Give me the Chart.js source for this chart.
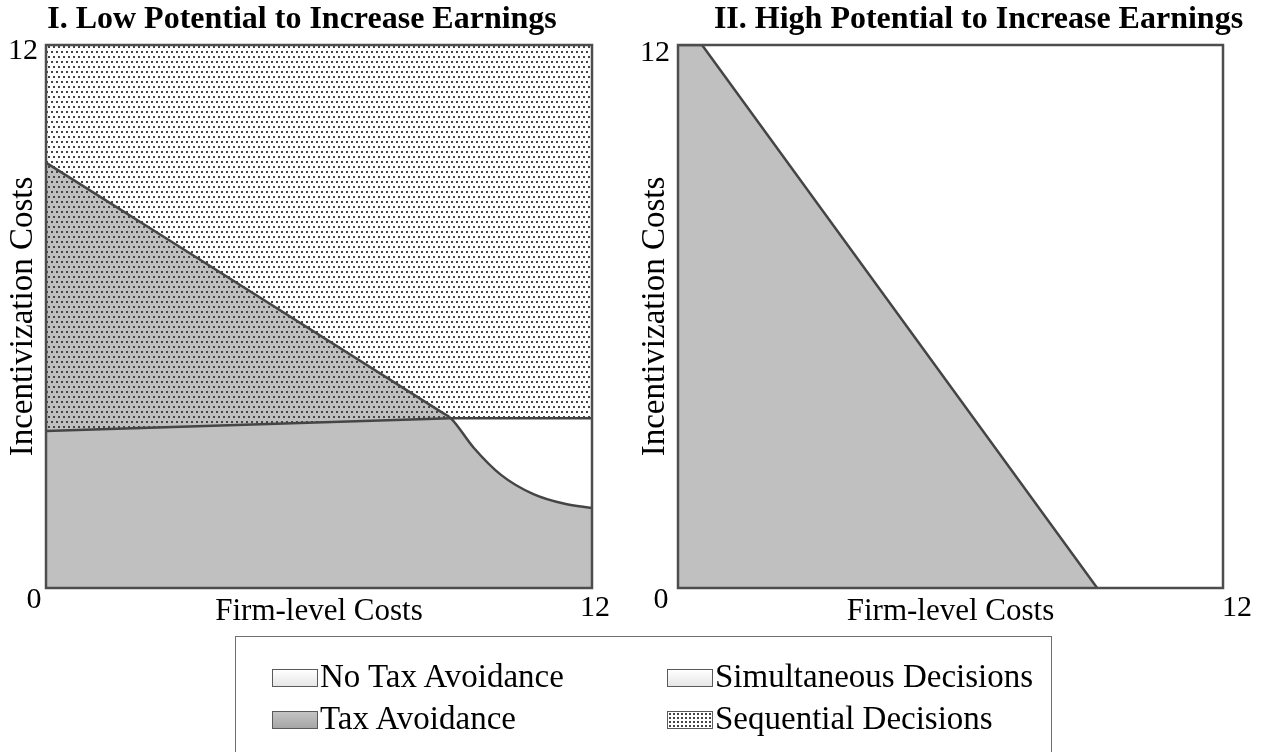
<!DOCTYPE html>
<html>
<head>
<meta charset="utf-8">
<script src="https://cdn.jsdelivr.net/npm/chart.js@4.4.1/dist/chart.umd.min.js"></script>
<style>
body { margin: 0; width: 1264px; height: 752px; overflow: hidden; background: #fff; font-family: "Liberation Serif", serif; }
.panel { position: absolute; top: 0; width: 632px; height: 640px; }
#left { left: 0; }
#right { left: 632px; }
#legend { position: absolute; left: 235px; top: 636px; width: 817px; height: 140px; border: 1.5px solid #6e6e6e; box-sizing: border-box; }
.item { position: absolute; font-size: 33px; line-height: 32px; color: #000; white-space: nowrap; }
.sw { display: inline-block; width: 46px; height: 18px; border: 1px solid #5a5a5a; box-sizing: border-box; vertical-align: 0px; margin-right: 2px; }
.white { background: linear-gradient(#ffffff, #e6e6e6); }
.grey { background: linear-gradient(#c4c4c4, #a6a6a6); }
.dots { background: radial-gradient(circle, #444 0.9px, transparent 1.3px) 0 0 / 4px 4px, #fff; }
</style>
</head>
<body>
<div class="panel" id="left"><canvas id="chart1" width="632" height="640"></canvas></div>
<div class="panel" id="right"><canvas id="chart2" width="632" height="640"></canvas></div>
<div id="legend">
	<div class="item" style="left:36px; top:23px;"><span class="sw white"></span>No Tax Avoidance</div>
	<div class="item" style="left:36px; top:65px;"><span class="sw grey"></span>Tax Avoidance</div>
	<div class="item" style="left:431px; top:23px;"><span class="sw white"></span>Simultaneous Decisions</div>
	<div class="item" style="left:431px; top:65px;"><span class="sw dots"></span>Sequential Decisions</div>
</div>
<script>
// both axes run 0..12
const axisMin = 0;
const axisMax = 12;
const tickLabels = ['0', '12'];
const panelTitles = ['I. Low Potential to Increase Earnings', 'II. High Potential to Increase Earnings'];
const xTitle = 'Firm-level Costs';
const yTitle = 'Incentivization Costs';

// panel I: lower edge of the sequential decisions (dotted) area
const seqX = [0, 8.9, 12];
const seqY = [3.47, 3.75, 3.75];
// panel I: upper edge of the tax avoidance (grey) area
const taxX = [0, 8.7, 8.9, 9.4, 10.0, 10.7, 11.4, 12];
const taxY = [9.4, 3.88, 3.75, 3.1, 2.5, 2.08, 1.86, 1.77];
// panel II: upper edge of the tax avoidance area
const highX = [0, 0.53, 9.23];
const highY = [12, 12, 0];

const lineColor = '#454545';
const greyFill = '#c0c0c0';
const serif = '"Liberation Serif", "Times New Roman", serif';

function toPoints(xs, ys) {
	return xs.map(function(x, i) { return {x: x, y: ys[i]}; });
}

function dotPattern() {
	//small dotted tile like the original screen
	const c = document.createElement('canvas');
	c.width = 10;
	c.height = 10;
	const g = c.getContext('2d');
	g.fillStyle = '#444';
	[[1, 1], [6, 1], [3, 6], [8, 6]].forEach(function(p) {
		g.fillRect(p[0], p[1], 2, 2);
	});
	return g.createPattern(c, 'repeat');
}

// frame, titles and the 0 / 12 corner labels
const panelText = {
	id: 'panelText',
	afterDatasetsDraw: function(chart) {
		const ctx = chart.ctx;
		const area = chart.chartArea;
		ctx.save();
		ctx.strokeStyle = '#4d4d4d';
		ctx.lineWidth = 2.5;
		ctx.strokeRect(area.left, area.top, area.right - area.left, area.bottom - area.top);
		ctx.restore();
	},
	afterDraw: function(chart, args, opts) {
		const ctx = chart.ctx;
		const area = chart.chartArea;
		const xs = chart.scales.x;
		const ys = chart.scales.y;
		ctx.save();
		ctx.fillStyle = '#000';
		ctx.textAlign = 'center';
		ctx.textBaseline = 'middle';
		ctx.font = 'bold 32px ' + serif;
		ctx.fillText(opts.title, (area.left + area.right) / 2 + opts.titleShift, 20);
		ctx.font = '30px ' + serif;
		const o = opts.offsets;
		ctx.fillText(tickLabels[1], xs.getPixelForValue(axisMin) + o[0], ys.getPixelForValue(axisMax) + o[1]);
		ctx.fillText(tickLabels[0], xs.getPixelForValue(axisMin) + o[2], ys.getPixelForValue(axisMin) + o[3]);
		ctx.fillText(tickLabels[1], xs.getPixelForValue(axisMax) + o[4], ys.getPixelForValue(axisMin) + o[5]);
		ctx.restore();
	}
};

function makeOptions(title, titleShift, offsets, rightPad) {
	return {
		responsive: false,
		animation: false,
		events: [],
		layout: {padding: {top: 45, right: rightPad, left: 0, bottom: 0}},
		elements: {point: {radius: 0}, line: {borderColor: lineColor, borderWidth: 2.5}},
		plugins: {
			legend: {display: false},
			tooltip: {enabled: false},
			filler: {drawTime: 'beforeDatasetsDraw'},
			panelText: {title: title, titleShift: titleShift, offsets: offsets}
		},
		scales: {
			x: {
				type: 'linear', min: axisMin, max: axisMax,
				ticks: {display: false, stepSize: 12},
				grid: {display: false},
				border: {display: false},
				title: {display: true, text: xTitle, color: '#000',
					font: {family: serif, size: 31, lineHeight: '30px'}, padding: {top: 0, bottom: 13}},
				afterFit: function(scale) { scale.height = 52; }
			},
			y: {
				type: 'linear', min: axisMin, max: axisMax,
				ticks: {display: false, stepSize: 12},
				grid: {display: false},
				border: {display: false},
				title: {display: true, text: yTitle, color: '#000',
					font: {family: serif, size: 33, lineHeight: '30px'}, padding: {top: 8, bottom: 0}},
				afterFit: function(scale) { scale.width = 46; }
			}
		}
	};
}

document.addEventListener("DOMContentLoaded", function(event) {
	new Chart(document.getElementById('chart1'), {
		type: 'line',
		plugins: [panelText],
		data: {
			datasets: [{
				label: 'Sequential Decisions',
				data: toPoints(seqX, seqY),
				fill: 'end',
				backgroundColor: dotPattern(),
				tension: 0
			}, {
				label: 'Tax Avoidance',
				data: toPoints(taxX, taxY),
				fill: 'origin',
				backgroundColor: greyFill,
				cubicInterpolationMode: 'monotone'
			}]
		},
		options: makeOptions(panelTitles[0], -17, [-23, 6, -12, 12, 3, 20], 40)
	});

	new Chart(document.getElementById('chart2'), {
		type: 'line',
		plugins: [panelText],
		data: {
			datasets: [{
				label: 'Tax Avoidance',
				data: toPoints(highX, highY),
				fill: 'origin',
				backgroundColor: greyFill,
				tension: 0
			}]
		},
		options: makeOptions(panelTitles[1], 28, [-23, 8, -17, 12, 14, 20], 41)
	});
});
</script>
</body>
</html>
